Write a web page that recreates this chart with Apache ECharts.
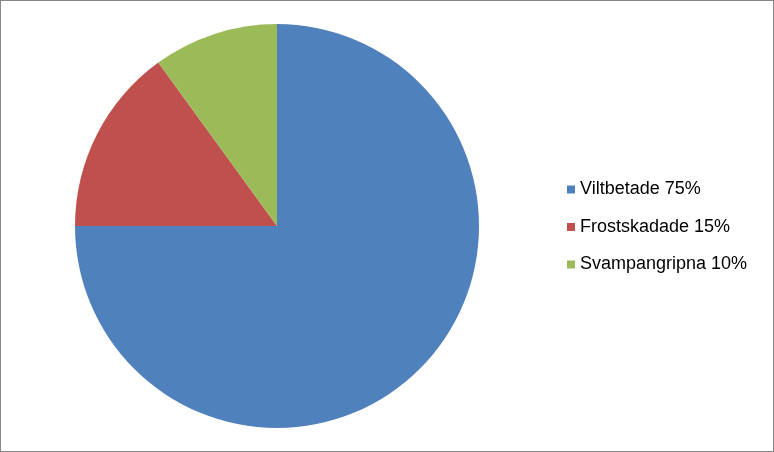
<!DOCTYPE html>
<html><head><meta charset="utf-8">
<script src="https://cdn.jsdelivr.net/npm/echarts@6/dist/echarts.min.js"></script>
<style>html,body{margin:0;padding:0;background:#fff}
#c{position:absolute;left:0;top:0;width:772px;height:450px;border:1px solid #868686;}</style>
</head><body><div id="c"></div>
<script>
const categories = ['Viltbetade 75%', 'Frostskadade 15%', 'Svampangripna 10%'];
const values = [75, 15, 10];
const colors = ['#4F81BD', '#C0504D', '#9BBB59'];
const chart = echarts.init(document.getElementById('c'), null, {renderer:'canvas'});
chart.setOption({
  animation:false,
  color: colors,
  legend:{
    orient:'vertical', left:561, top:174.5,
    itemWidth:8, itemHeight:8, itemGap:19.5, icon:'rect',
    textStyle:{fontFamily:'Liberation Sans', fontSize:18, color:'#000'},
    data: categories
  },
  series:[{
    type:'pie', center:[276,225], radius:202, startAngle:90, clockwise:true,
    label:{show:false}, labelLine:{show:false},
    itemStyle:{borderColor:'#fff', borderWidth:0},
    data: categories.map((n,i)=>({name:n, value:values[i]}))
  }]
});
</script></body></html>
